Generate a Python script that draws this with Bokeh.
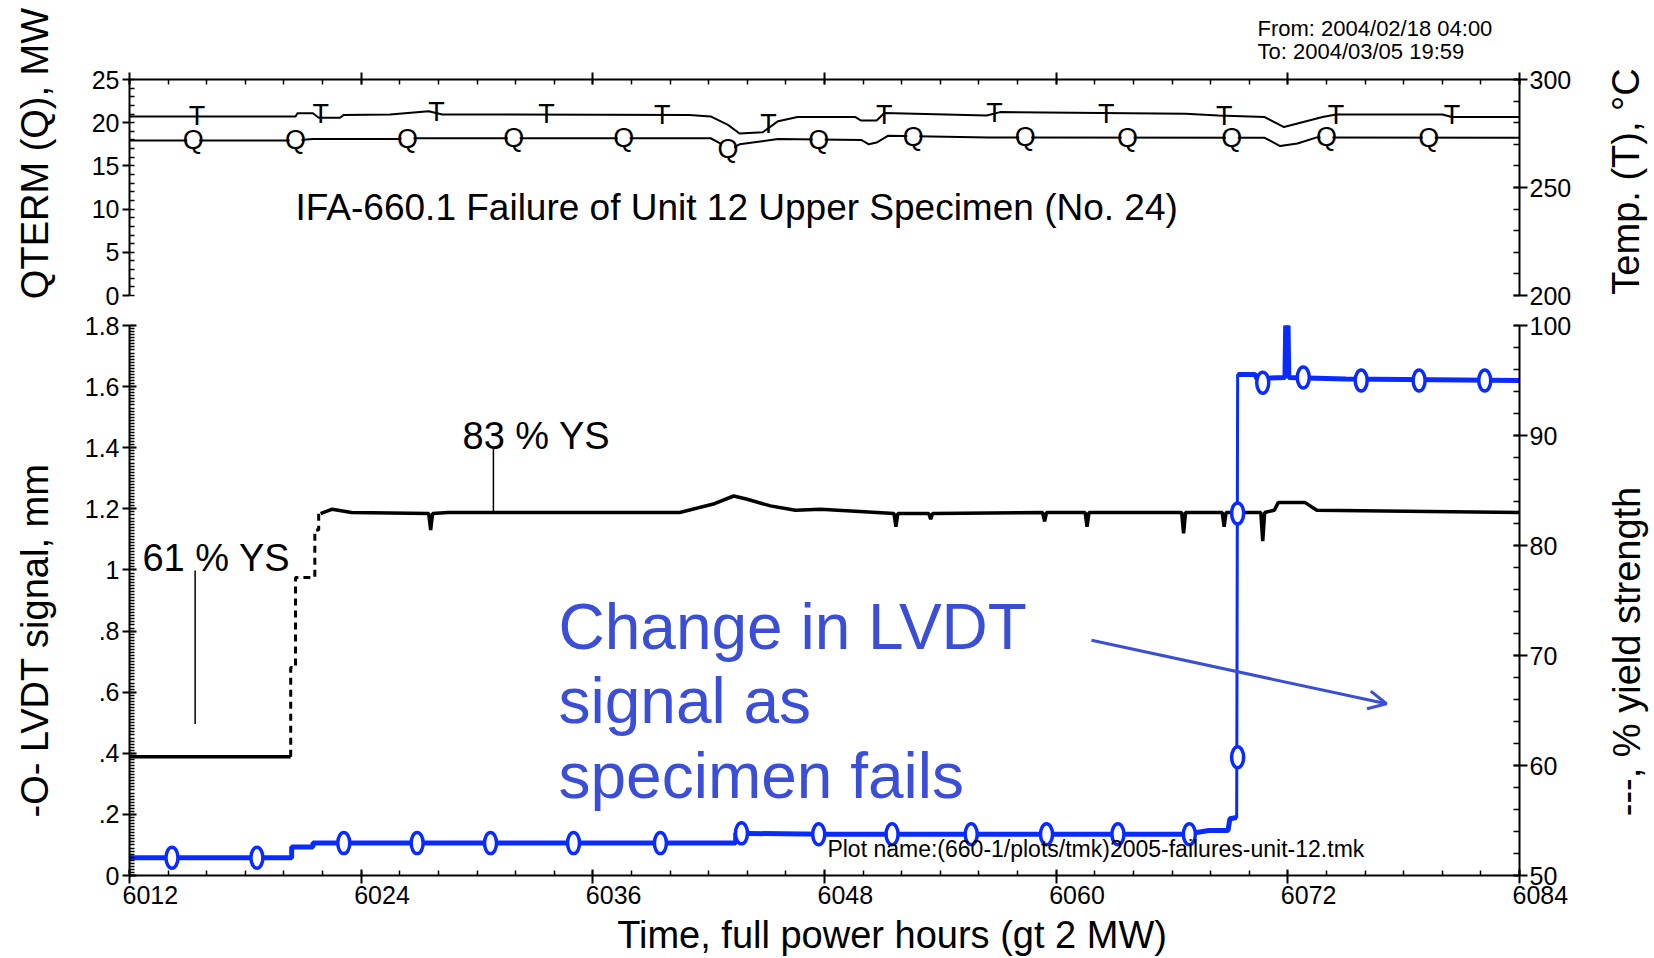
import math
from bokeh.plotting import figure
from bokeh.models import (Range1d, LinearAxis, SingleIntervalTicker, CustomJSTickFormatter,
                          Label, Arrow, OpenHead)
from bokeh.layouts import column, row
from bokeh.embed import file_html
from bokeh.resources import INLINE
from bokeh.core.properties import value

# ---------------- data ----------------
x_tick_values = [6012, 6024, 6036, 6048, 6060, 6072, 6084]
x_tick_labels = ["6012", "6024", "6036", "6048", "6060", "6072", "6084"]

# upper panel: QTERM power (MW, left axis) and temperature (degC, right axis)
q_hours = [6012.0, 6020.5, 6021.5, 6026.0, 6026.1, 6042.1, 6042.6, 6043.0, 6043.6, 6045.6,
           6049.9, 6050.3, 6050.7, 6051.3, 6056.5, 6070.8, 6071.6, 6072.5, 6073.5, 6084.0]
q_mw = [17.95, 17.95, 18.1, 18.1, 18.2, 18.2, 17.6, 16.8, 17.5, 18.1,
        18.0, 17.5, 17.7, 18.5, 18.3, 18.25, 17.3, 17.6, 18.3, 18.25]
t_hours = [6012.0, 6020.6, 6020.7, 6021.5, 6021.8, 6022.9, 6023.1, 6025.5, 6027.5, 6028.2,
           6041.0, 6042.1, 6043.0, 6043.6, 6044.8, 6045.6, 6046.6, 6049.6, 6049.9, 6050.7,
           6051.1, 6056.4, 6057.1, 6066.7, 6068.4, 6070.8, 6071.8, 6073.8, 6074.5, 6080.0,
           6080.5, 6084.0]
t_degc = [282.9, 282.9, 284.4, 284.4, 282.3, 282.3, 283.6, 283.8, 285.3, 283.8,
          283.6, 282.9, 279.0, 275.0, 275.6, 280.7, 282.6, 282.6, 281.0, 281.0,
          284.5, 283.3, 284.9, 284.1, 283.3, 282.6, 278.0, 282.6, 283.8, 283.8,
          282.6, 282.6]
q_mark_hours = [6015.3, 6020.6, 6026.4, 6031.9, 6037.6, 6043.0, 6047.7, 6052.6, 6058.4,
                6063.7, 6069.1, 6074.0, 6079.3]
q_mark_mw = [17.95, 17.95, 18.1, 18.2, 18.2, 16.9, 18.0, 18.4, 18.3, 18.25, 18.25, 18.3, 18.25]
t_mark_hours = [6015.5, 6021.9, 6027.9, 6033.6, 6039.6, 6045.1, 6051.1, 6056.8, 6062.6,
                6068.7, 6074.5, 6080.5]
t_mark_degc = [282.9, 284.0, 284.8, 283.8, 283.6, 279.5, 283.5, 284.5, 284.1, 283.0, 283.5, 283.6]

# lower panel: % yield strength (right axis) and LVDT signal (mm, left axis)
ys_start_hours = [6012.0, 6020.35]
ys_start_pct = [60.8, 60.8]
ys_ramp_hours = [6020.35, 6020.35, 6020.6, 6020.6, 6021.6, 6021.6, 6021.8, 6021.8, 6021.9]
ys_ramp_pct = [60.8, 68.9, 68.9, 77.1, 77.1, 81.4, 81.4, 82.9, 82.9]
ys_hours = [6021.9, 6022.5, 6023.5, 6027.5, 6027.6, 6027.7, 6028.5, 6040.5, 6042.3, 6043.3,
            6044.0, 6045.2, 6046.5, 6047.8, 6051.6, 6051.7, 6051.8, 6053.4, 6053.5, 6053.6,
            6059.3, 6059.4, 6059.5, 6061.5, 6061.6, 6061.7, 6066.5, 6066.6, 6066.7, 6068.6,
            6068.7, 6068.8, 6070.6, 6070.7, 6070.8, 6071.3, 6071.5, 6072.9, 6073.5, 6084.0]
ys_pct = [82.9, 83.3, 83.0, 82.9, 81.4, 82.9, 83.0, 83.0, 83.8, 84.5,
          84.2, 83.6, 83.2, 83.3, 82.9, 81.7, 82.9, 82.9, 82.4, 82.9,
          83.0, 82.2, 83.0, 83.0, 81.7, 83.0, 83.0, 81.1, 83.0, 83.0,
          81.7, 83.0, 83.0, 80.4, 83.0, 83.2, 83.9, 83.9, 83.2, 83.0]
lvdt_hours = [6012.0, 6020.4, 6020.4, 6021.5, 6021.5, 6043.4, 6043.4, 6048.0, 6066.5, 6067.2,
              6067.9, 6068.9, 6069.0, 6069.35, 6069.4, 6070.3, 6070.4, 6071.85, 6071.9, 6072.0,
              6072.05, 6075.0, 6084.0]
lvdt_mm = [0.058, 0.058, 0.093, 0.093, 0.106, 0.106, 0.138, 0.135, 0.135, 0.14,
           0.147, 0.147, 0.186, 0.19, 1.64, 1.64, 1.626, 1.63, 1.85, 1.85,
           1.63, 1.625, 1.62]
lvdt_mark_hours = [6014.2, 6018.6, 6023.1, 6026.9, 6030.7, 6035.0, 6039.5, 6043.7, 6047.7,
                   6051.5, 6055.6, 6059.5, 6063.2, 6066.9, 6069.4, 6069.4, 6070.7, 6072.8,
                   6075.8, 6078.8, 6082.2]
lvdt_mark_mm = [0.058, 0.058, 0.106, 0.106, 0.106, 0.106, 0.106, 0.138, 0.135, 0.135,
                0.135, 0.135, 0.135, 0.135, 1.185, 0.387, 1.613, 1.63, 1.62, 1.62, 1.62]

note_lines = ["Change in LVDT", "signal as", "specimen fails"]

# ---------------- layout constants (page pixels) ----------------
FONT = "Liberation Sans"
BLUE = "#0a2bff"
NOTE_BLUE = "#3a4ed6"
X0, X1 = 6012, 6084
FRAME_L, FRAME_R = 129, 1519
LEFT_W, RIGHT_X0, RIGHT_X1 = 68, 1600, 1650
MAIN_W = RIGHT_X0 - LEFT_W
BL, BR = FRAME_L - LEFT_W, RIGHT_X0 - FRAME_R
TOP_STRIP_H, TOP_H, BOT_H, BOT_STRIP_H = 64, 246, 602, 44
TOTAL_H = TOP_STRIP_H + TOP_H + BOT_H + BOT_STRIP_H
TICK_FS = "25px"


def style_axis(ax, maj_in, maj_out, min_in, labels=True, standoff=3):
    ax.axis_line_width = 2
    ax.axis_line_color = "black"
    ax.major_tick_line_width = 2
    ax.minor_tick_line_width = 1.5
    ax.major_tick_line_color = "black"
    ax.minor_tick_line_color = "black"
    ax.major_tick_in = maj_in
    ax.major_tick_out = maj_out
    ax.minor_tick_in = min_in
    ax.minor_tick_out = 0
    ax.major_label_text_font = FONT
    if labels:
        ax.major_label_text_font_size = TICK_FS
        ax.major_label_text_color = "black"
        ax.major_label_standoff = standoff
    else:
        ax.major_label_text_font_size = "0px"
        ax.major_label_text_color = None
        ax.major_label_standoff = 0


def strip(width, height, xr, yr):
    s = figure(width=width, height=height, x_range=xr, y_range=yr, output_backend="svg",
               toolbar_location=None, x_axis_location=None, y_axis_location=None, min_border=0)
    s.outline_line_color = None
    s.grid.visible = False
    return s


def txt(p, x, y, text, size, align="left", angle=0.0, color="black"):
    p.text(x=[x], y=[y], text=[text], text_font=value(FONT), text_font_size=value(size),
           text_align=align, text_baseline="middle", angle=angle, text_color=color)


# ---------------- upper panel ----------------
top = figure(width=MAIN_W, height=TOP_H, x_range=Range1d(X0, X1), y_range=Range1d(0, 25),
             output_backend="svg", toolbar_location=None, x_axis_location="above",
             min_border_left=BL, min_border_right=BR, min_border_top=15, min_border_bottom=15)
top.extra_y_ranges = {"temp": Range1d(200, 300)}
top.outline_line_color = None
top.grid.visible = False
top.xaxis[0].ticker = SingleIntervalTicker(interval=12, num_minor_ticks=6)
style_axis(top.xaxis[0], 5, 7, 5, labels=False)
top.yaxis[0].ticker = SingleIntervalTicker(interval=5, num_minor_ticks=5)
style_axis(top.yaxis[0], 0, 7, 5, standoff=3)
temp_axis = LinearAxis(y_range_name="temp", ticker=SingleIntervalTicker(interval=50, num_minor_ticks=5))
style_axis(temp_axis, 6, 8, 6, standoff=2)
top.add_layout(temp_axis, "right")

top.line(t_hours, t_degc, y_range_name="temp", line_color="black", line_width=2)
top.line(q_hours, q_mw, line_color="black", line_width=2)
top.text(x=t_mark_hours, y=t_mark_degc, y_range_name="temp", text=["T"] * len(t_mark_hours),
         text_font=value(FONT), text_font_size=value("27px"), text_align="center",
         text_baseline="middle", text_color="black")
top.rect(x=q_mark_hours, y=q_mark_mw, width=12, height=18, width_units="screen",
         height_units="screen", fill_color="white", line_color=None)
top.text(x=q_mark_hours, y=q_mark_mw, text=["Q"] * len(q_mark_hours),
         text_font=value(FONT), text_font_size=value("27px"), text_align="center",
         text_baseline="middle", text_color="black")
top.add_layout(Label(x=6020.6, y=10.14, text="IFA-660.1 Failure of Unit 12 Upper Specimen (No. 24)",
                     text_font=FONT, text_font_size="37px", text_align="left",
                     text_baseline="middle", text_color="black"))

# ---------------- lower panel ----------------
bot = figure(width=MAIN_W, height=BOT_H, x_range=top.x_range, y_range=Range1d(0, 1.8),
             output_backend="svg", toolbar_location=None,
             min_border_left=BL, min_border_right=BR, min_border_top=15, min_border_bottom=37)
bot.extra_y_ranges = {"ys": Range1d(50, 100)}
bot.outline_line_color = None
bot.grid.visible = False
bot.xaxis[0].ticker = SingleIntervalTicker(interval=12, num_minor_ticks=6)
style_axis(bot.xaxis[0], 6, 8, 5, labels=True, standoff=-3)
# labels start just left of their tick, as in the reference (padding shifts the centred label)
bot.xaxis[0].major_label_overrides = {v: "\u00a0" * 6 + lab for v, lab in zip(x_tick_values, x_tick_labels)}
bot.yaxis[0].ticker = SingleIntervalTicker(interval=0.2, num_minor_ticks=20)
bot.yaxis[0].formatter = CustomJSTickFormatter(code="""
    const v = Math.round(tick * 10) / 10;
    if (Math.abs(v) < 1e-9) return '0';
    if (Math.abs(v - Math.round(v)) < 1e-9) return String(Math.round(v));
    const s = v.toFixed(1);
    return s.startsWith('0') ? s.slice(1) : s;
""")
style_axis(bot.yaxis[0], 7, 7, 5, standoff=3)
ys_axis = LinearAxis(y_range_name="ys", ticker=SingleIntervalTicker(interval=10, num_minor_ticks=5))
style_axis(ys_axis, 6, 8, 6, standoff=2)
bot.add_layout(ys_axis, "right")

# yield strength (black)
bot.line(ys_start_hours, ys_start_pct, y_range_name="ys", line_color="black", line_width=3.5)
bot.line(ys_ramp_hours, ys_ramp_pct, y_range_name="ys", line_color="black", line_width=3,
         line_dash="7 5")
bot.line(ys_hours, ys_pct, y_range_name="ys", line_color="black", line_width=3.5)

# LVDT (blue)
bot.line(lvdt_hours, lvdt_mm, line_color=BLUE, line_width=3)
bot.line(lvdt_hours[:14], lvdt_mm[:14], line_color=BLUE, line_width=5)
bot.line(lvdt_hours[14:], lvdt_mm[14:], line_color=BLUE, line_width=5)
bot.ellipse(x=lvdt_mark_hours, y=lvdt_mark_mm, width=12, height=21, width_units="screen",
            height_units="screen", fill_color="white", line_color=BLUE, line_width=3.5)

# annotations inside the lower frame
bot.segment(x0=[6015.4, 6030.85], y0=[0.496, 1.19], x1=[6015.4, 6030.85], y1=[0.998, 1.397],
            line_color="black", line_width=1.5)
bot.add_layout(Label(x=6012.67, y=1.039, text="61 % YS", text_font=FONT, text_font_size="38px",
                     text_align="left", text_baseline="middle", text_color="black"))
bot.add_layout(Label(x=6029.25, y=1.44, text="83 % YS", text_font=FONT, text_font_size="38px",
                     text_align="left", text_baseline="middle", text_color="black"))
for line_text, mid in zip(note_lines, [0.813, 0.571, 0.325]):
    bot.add_layout(Label(x=6034.22, y=mid, text=line_text, text_font=FONT,
                         text_font_size="64px", text_align="left", text_baseline="middle",
                         text_color=NOTE_BLUE))
bot.add_layout(Arrow(end=OpenHead(line_color=NOTE_BLUE, line_width=3, size=18),
                     x_start=6061.83, y_start=0.770, x_end=6077.11, y_end=0.562,
                     line_color=NOTE_BLUE, line_width=3))
bot.add_layout(Label(x=6048.15, y=0.086, text="Plot name:(660-1/plots/tmk)2005-failures-unit-12.tmk",
                     text_font=FONT, text_font_size="23px", text_align="left",
                     text_baseline="middle", text_color="black"))

# ---------------- text strips around the panels ----------------
# top/bottom strips share the panels' frame width, so their x is in hours; y is in page px
top_strip = strip(MAIN_W, TOP_STRIP_H, Range1d(X0, X1), Range1d(TOP_STRIP_H, 0))
txt(top_strip, 6070.43, 27.8, "From: 2004/02/18 04:00", "22px")
txt(top_strip, 6070.43, 51.3, "To: 2004/03/05 19:59", "22px")

y_bs0 = TOP_STRIP_H + TOP_H + BOT_H
bot_strip = strip(MAIN_W, BOT_STRIP_H, Range1d(X0, X1), Range1d(y_bs0 + BOT_STRIP_H, y_bs0))
txt(bot_strip, 6051.5, 934.0, "Time, full power hours (gt 2 MW)", "38px", align="center")

left_strip = strip(LEFT_W, TOTAL_H, Range1d(0, LEFT_W), Range1d(TOTAL_H, 0))
txt(left_strip, 34, 153, "QTERM (Q), MW", "38px", align="center", angle=math.pi / 2)
txt(left_strip, 34, 640, "-O- LVDT signal, mm", "38px", align="center", angle=math.pi / 2)

right_strip = strip(RIGHT_X1 - RIGHT_X0, TOTAL_H, Range1d(RIGHT_X0, RIGHT_X1), Range1d(TOTAL_H, 0))
txt(right_strip, 1625, 181, "Temp. (T), \u00b0C", "38px", align="center", angle=math.pi / 2)
txt(right_strip, 1626, 651, "---, % yield strength", "38px", align="center", angle=math.pi / 2)

layout = row(left_strip, column(top_strip, top, bot, bot_strip), right_strip)
open("out.html", "w", encoding="utf-8").write(file_html(layout, INLINE))
